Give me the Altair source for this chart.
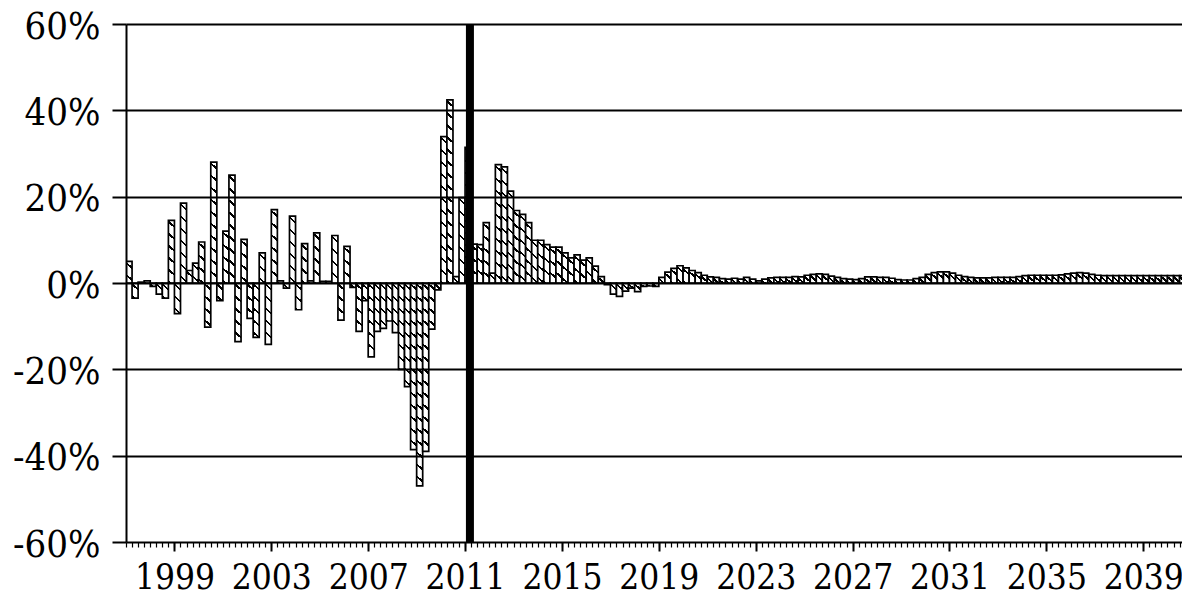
import altair as alt
import pandas as pd

# ---- data (quarterly, first bar = 1997 Q1) ----
start_year = 1997
growth = [
    5.0, -3.5, 0.2, 0.5, -0.8, -2.6, -3.5, 14.5,          # 1997-1998
    -7.1, 18.5, 2.9, 4.6, 9.5, -10.2, 28.0, -4.1,          # 1999-2000
    12.0, 25.0, -13.6, 10.1, -8.2, -12.6, 7.0, -14.2,      # 2001-2002
    17.0, 0.5, -1.2, 15.5, -6.2, 9.1, 0.5, 11.6,           # 2003-2004
    0.4, 0.4, 11.0, -8.6, 8.5, -1.0, -11.2, -4.1,          # 2005-2006
    -17.1, -11.2, -10.5, -8.8, -11.5, -20.0, -24.0, -38.6, # 2007-2008
    -47.0, -39.0, -10.7, -1.6, 33.9, 42.4, 1.5, 19.8,      # 2009-2010
    31.4, 9.0, 8.9, 14.0, 2.3, 27.4, 26.9, 21.3,           # 2011-2012
    16.8, 15.9, 14.0, 9.9, 9.9, 8.9, 8.3, 8.3,             # 2013-2014
    7.0, 5.8, 6.5, 5.3, 5.8, 3.9, 1.5, -0.4,               # 2015-2016
    -2.6, -3.1, -1.9, -1.2, -2.0, -0.8, -0.7, -0.8,        # 2017-2018
    1.3, 2.5, 3.4, 4.0, 3.5, 2.9, 2.4, 1.8,                # 2019-2020
    1.4, 1.3, 1.0, 0.9, 1.1, 0.9, 1.3, 0.9,                # 2021-2022
    0.5, 0.9, 1.2, 1.3, 1.3, 1.3, 1.5, 1.4,                # 2023-2024
    1.8, 2.0, 2.1, 2.0, 1.6, 1.3, 1.0, 0.9,                # 2025-2026
    0.8, 1.0, 1.4, 1.4, 1.3, 1.3, 1.1, 0.8,                # 2027-2028
    0.7, 0.7, 1.0, 1.3, 2.0, 2.4, 2.6, 2.6,                # 2029-2030
    2.3, 1.8, 1.5, 1.3, 1.2, 1.2, 1.2, 1.3,                # 2031-2032
    1.3, 1.3, 1.3, 1.5, 1.7, 1.8, 1.8, 1.8,                # 2033-2034
    1.8, 1.8, 1.9, 2.1, 2.3, 2.4, 2.3, 2.0,                # 2035-2036
    1.8, 1.7, 1.7, 1.7, 1.7, 1.7, 1.7, 1.7,                # 2037-2038
    1.7, 1.7, 1.7, 1.7, 1.7, 1.7, 1.7, 1.7,                # 2039-2040
]
major_years = [1999, 2003, 2007, 2011, 2015, 2019, 2023, 2027, 2031, 2035, 2039]
y_ticks = [-60, -40, -20, 0, 20, 40, 60]
forecast_start = [2011.2]
title_text = "(percent yearly change)"

# ---- layout / style constants ----
W, H = 1056, 518
X_DOMAIN = [1997, 2040.6]
Y_DOMAIN = [-60, 60]
FONT = "DejaVu Serif Condensed, DejaVu Serif"

HATCH_SLOPE = 0.9
HATCH_GAP = 12.0
HATCH_THICK = 2.4


def hatch(value):
    w = 0.25 * W / (X_DOMAIN[1] - X_DOMAIN[0])
    h = max(abs(value) * H / (Y_DOMAIN[1] - Y_DOMAIN[0]), 0.01)
    s = HATCH_SLOPE
    L = h + s * w
    k = (s * w + h) / (s * s * w * w + h * h)
    stops = [{"offset": 0, "color": "white"}]
    c = -s * w + HATCH_GAP * 0.55
    while c - HATCH_THICK / 2 < h:
        a = max((c - HATCH_THICK / 2 + s * w) / L, 0)
        b = min((c + HATCH_THICK / 2 + s * w) / L, 1)
        if b > a:
            stops += [
                {"offset": a, "color": "white"},
                {"offset": a, "color": "black"},
                {"offset": b, "color": "black"},
                {"offset": b, "color": "white"},
            ]
        c += HATCH_GAP
    stops.append({"offset": 1, "color": "white"})
    return {
        "gradient": "linear",
        "x1": 1, "y1": 0,
        "x2": 1 - k * s * w, "y2": k * h,
        "stops": stops,
    }


records = []
for i, v in enumerate(growth):
    t = start_year + 0.25 * i
    records.append({"t": t, "t2": t + 0.25, "v": v, "grad": hatch(v)})

quarter_ticks = [start_year + 0.25 * i for i in range(0, 175)]

xscale = alt.Scale(domain=X_DOMAIN, nice=False, zero=False)
yscale = alt.Scale(domain=Y_DOMAIN, nice=False, zero=False)

bars = alt.Chart(alt.Data(values=records)).mark_bar(
    stroke="black", strokeWidth=1.7, clip=True
).encode(
    x=alt.X("t:Q", scale=xscale, axis=alt.Axis(
        orient="bottom", values=major_years, format="d", title=None,
        grid=False, domain=False, tickSize=9, tickWidth=2, tickColor="black",
        labelFont=FONT, labelFontSize=35, labelColor="black",
        labelBaseline="alphabetic", labelPadding=37,
        labelFlush=False, labelOverlap=False,
    )),
    x2="t2:Q",
    y=alt.Y("v:Q", scale=yscale, axis=alt.Axis(
        values=y_ticks, labelExpr="datum.value + '%'", title=None,
        grid=True, gridColor="black", gridWidth=2, gridOpacity=1,
        domain=True, domainColor="black", domainWidth=2,
        tickSize=14, tickColor="black", tickWidth=2,
        labelFont=FONT, labelFontSize=38, labelColor="black",
        labelPadding=12, labelOffset=3, zindex=1,
    )),
    y2=alt.datum(0),
    fill=alt.Fill("grad:N", scale=None, legend=None),
)

rule = alt.Chart(alt.Data(values=[{"t": v} for v in forecast_start])).mark_rule(
    color="black", strokeWidth=8
).encode(
    x=alt.X("t:Q", scale=xscale, axis=alt.Axis(
        orient="bottom", values=quarter_ticks, labels=False, title=None,
        grid=False, domain=False, tickSize=5, tickWidth=1.2, tickColor="black",
    )),
)

chart = alt.layer(bars, rule).resolve_axis(x="independent").properties(
    width=W,
    height=H,
    title=alt.TitleParams(
        text=title_text, font=FONT, fontSize=36, fontWeight="normal",
        color="black", anchor="middle", frame="group",
        baseline="alphabetic", offset=28,
    ),
    autosize=alt.AutoSizeParams(type="none"),
    padding={"left": 118, "top": 16, "right": 0, "bottom": 54},
).configure_view(stroke=None).configure(background="white", font=FONT)

chart.save("out.html", embed_options={"renderer": "svg", "actions": False})
